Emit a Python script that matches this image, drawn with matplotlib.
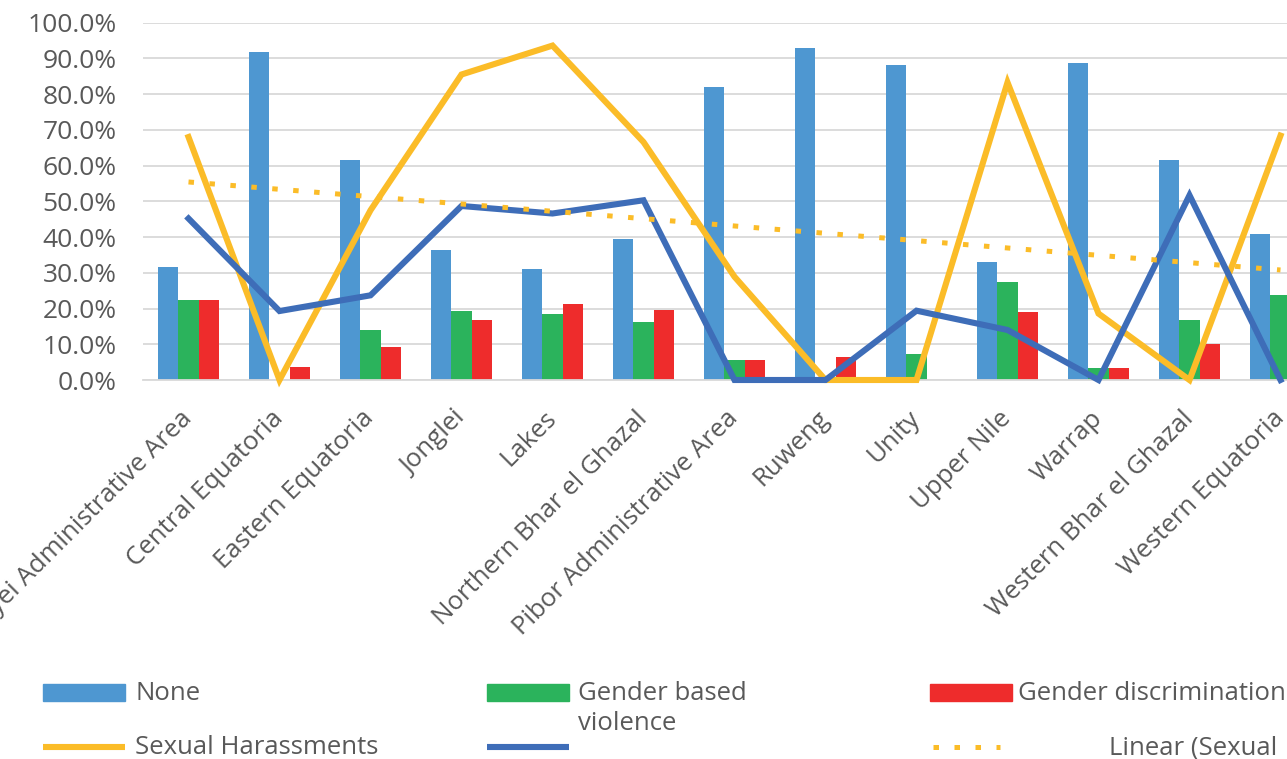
import numpy as np
import matplotlib
matplotlib.use("Agg")
import matplotlib.pyplot as plt
from matplotlib.lines import Line2D
from matplotlib.patches import Rectangle

plt.rcParams['font.family'] = ['Open Sans', 'DejaVu Sans']

# States / administrative areas
categories = [
    "Abyei Administrative Area", "Central Equatoria", "Eastern Equatoria",
    "Jonglei", "Lakes", "Northern Bhar el Ghazal", "Pibor Administrative Area",
    "Ruweng", "Unity", "Upper Nile", "Warrap", "Western Bhar el Ghazal",
    "Western Equatoria",
]

# Shares of respondents (%)
none_pct = [31.5, 91.9, 61.6, 36.3, 31.0, 39.6, 81.9, 92.9, 88.2, 32.9, 88.6, 61.6, 41.0]
gbv_pct = [22.3, 0.0, 14.0, 19.3, 18.5, 16.3, 5.6, 0.0, 7.3, 27.5, 3.3, 16.9, 23.7]
discrimination_pct = [22.3, 3.5, 9.2, 16.7, 21.4, 19.6, 5.6, 6.3, 0.0, 19.1, 3.3, 10.1, 20.0]
harassment_pct = [68.0, 0.0, 47.5, 85.5, 93.6, 66.6, 28.9, 0.0, 0.0, 83.3, 18.6, 0.0, 68.4]
other_pct = [45.2, 19.3, 23.7, 48.7, 46.6, 50.3, 0.0, 0.0, 19.4, 14.0, 0.0, 51.7, 0.0]

yticks = list(range(0, 101, 10))
ytick_labels = [f"{v:.1f}%" for v in yticks]

C_NONE = "#4e97d1"
C_GBV = "#2bb35c"
C_DISC = "#ee2c2c"
C_HARASS = "#fbbc28"
C_OTHER = "#3e6db8"
C_TEXT = "#595959"
C_GRID = "#d9d9d9"

W, H = 1287, 759
fig = plt.figure(figsize=(W / 100, H / 100), dpi=100)
fig.patch.set_facecolor("white")

# the plot area runs past the right edge of the canvas
ax = fig.add_axes([143 / W, 1 - 380 / H, (1326 - 143) / W, (380 - 22.7) / H])

x = np.arange(len(categories))
bw = 0.22
ax.bar(x - bw, none_pct, bw, color=C_NONE, zorder=2)
ax.bar(x, gbv_pct, bw, color=C_GBV, zorder=2)
ax.bar(x + bw, discrimination_pct, bw, color=C_DISC, zorder=2)

ax.plot(x, harassment_pct, color=C_HARASS, lw=4.4, zorder=3, clip_on=False,
        solid_joinstyle="miter")
ax.plot(x, other_pct, color=C_OTHER, lw=4.4, zorder=4, clip_on=False,
        solid_joinstyle="miter")

# linear trend of the harassment series
coef = np.polyfit(x, harassment_pct, 1)
ax.plot(x, np.polyval(coef, x), color=C_HARASS, lw=3.6,
        linestyle=(0, (1.1, 3.1)), dash_capstyle="butt", zorder=5, clip_on=False)

ax.set_xlim(-0.5, len(categories) - 0.5)
ax.set_ylim(0, 100)
ax.set_yticks(yticks)
ax.set_yticklabels(ytick_labels, fontsize=19, color=C_TEXT)
ax.yaxis.grid(True, color=C_GRID, lw=1.3, zorder=0)
ax.set_axisbelow(True)
for s in ("top", "right", "left"):
    ax.spines[s].set_visible(False)
ax.spines["bottom"].set_color(C_GRID)
ax.spines["bottom"].set_linewidth(1.3)
ax.tick_params(axis="y", length=0, pad=19)
ax.tick_params(axis="x", length=0, pad=25)

ax.set_xticks(x)
ax.set_xticklabels(categories, rotation=45, ha="right", va="center",
                   rotation_mode="anchor", fontsize=18.5, color=C_TEXT)

# legend drawn in figure pixels
def fx(px):
    return px / W

def fy(py):
    return 1 - py / H

tf = fig.transFigure
patch_items = [(43, C_NONE), (487, C_GBV), (930, C_DISC)]
for px, col in patch_items:
    fig.add_artist(Rectangle((fx(px), fy(701)), fx(82), 17 / H, transform=tf,
                             color=col))
fig.add_artist(Line2D([fx(43), fx(125)], [fy(747), fy(747)], transform=tf,
                      color=C_HARASS, lw=4.4, solid_capstyle="butt"))
fig.add_artist(Line2D([fx(487), fx(569)], [fy(747), fy(747)], transform=tf,
                      color=C_OTHER, lw=4.4, solid_capstyle="butt"))
fig.add_artist(Line2D([fx(933), fx(1000)], [fy(747), fy(747)], transform=tf,
                      color=C_HARASS, lw=3.6, linestyle=(0, (1.1, 3.1)),
                      dash_capstyle="butt"))

legend_texts = [
    (135, 693, "None"),
    (578, 693, "Gender based"),
    (578, 723, "violence"),
    (1018, 693, "Gender discrimination"),
    (135, 748, "Sexual Harassments"),
    (1109, 748, "Linear (Sexual"),
]
for px, py, s in legend_texts:
    fig.text(fx(px), fy(py), s, fontsize=18.5, color=C_TEXT, ha="left", va="center")

fig.savefig("out.png", dpi=100, facecolor="white")
